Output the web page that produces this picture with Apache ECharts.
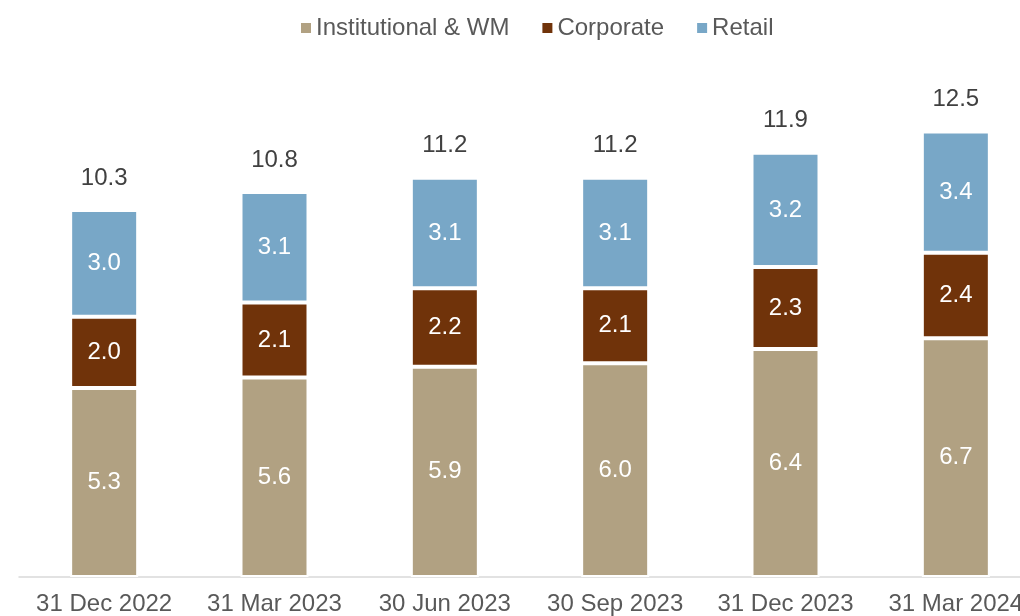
<!DOCTYPE html>
<html><head><meta charset="utf-8">
<script src="https://cdn.jsdelivr.net/npm/echarts@6/dist/echarts.min.js"></script>
<style>html,body{margin:0;padding:0;background:#fff;overflow:hidden}#c{width:1041px;height:616px}</style>
</head><body><div id="c"></div>
<script>
const categories = ['31 Dec 2022','31 Mar 2023','30 Jun 2023','30 Sep 2023','31 Dec 2023','31 Mar 2024'];
const institutional = [5.3, 5.6, 5.9, 6.0, 6.4, 6.7];
const corporate = [2.0, 2.1, 2.2, 2.1, 2.3, 2.4];
const retail = [3.0, 3.1, 3.1, 3.1, 3.2, 3.4];
const totals = [10.3, 10.8, 11.2, 11.2, 11.9, 12.5];
const zeros = totals.map(() => 0);

const FONT = 'Liberation Sans, Arial, sans-serif';
const inner = {show:true, position:'inside', color:'#fff', fontSize:24, fontFamily:FONT, formatter: p => p.value.toFixed(1)};
const border = {borderColor:'#fff', borderWidth:2};

const chart = echarts.init(document.getElementById('c'));
chart.setOption({
  animation:false,
  legend:{
    top:11, left:296, itemWidth:10, itemHeight:10, itemGap:33,
    icon:'rect',
    itemStyle:{borderWidth:0},
    textStyle:{fontSize:24, color:'#595959', fontFamily:FONT},
    data:['Institutional & WM','Corporate','Retail']
  },
  grid:{left:19, right:0, top:78, bottom:39, containLabel:false},
  xAxis:{
    type:'category', data:categories,
    axisLine:{lineStyle:{color:'#d9d9d9', width:1.5}},
    axisTick:{show:false},
    axisLabel:{fontSize:24, color:'#595959', fontFamily:FONT, margin:15, interval:0}
  },
  yAxis:{type:'value', min:0, max:14, show:false, splitLine:{show:false}},
  series:[
    {name:'Institutional & WM', type:'bar', stack:'t', data:institutional, barWidth:68,
     itemStyle:Object.assign({color:'#B1A182'}, border), label:inner},
    {name:'Corporate', type:'bar', stack:'t', data:corporate, barWidth:68,
     itemStyle:Object.assign({color:'#70330A'}, border), label:inner},
    {name:'Retail', type:'bar', stack:'t', data:retail, barWidth:68,
     itemStyle:Object.assign({color:'#78A7C7'}, border), label:inner},
    {name:'Total', type:'bar', stack:'t', data:zeros, barWidth:68,
     itemStyle:{color:'transparent'},
     label:{show:true, position:'top', distance:20, color:'#404040', fontSize:24, fontFamily:FONT,
            formatter: p => totals[p.dataIndex].toFixed(1)}}
  ]
});
</script></body></html>
